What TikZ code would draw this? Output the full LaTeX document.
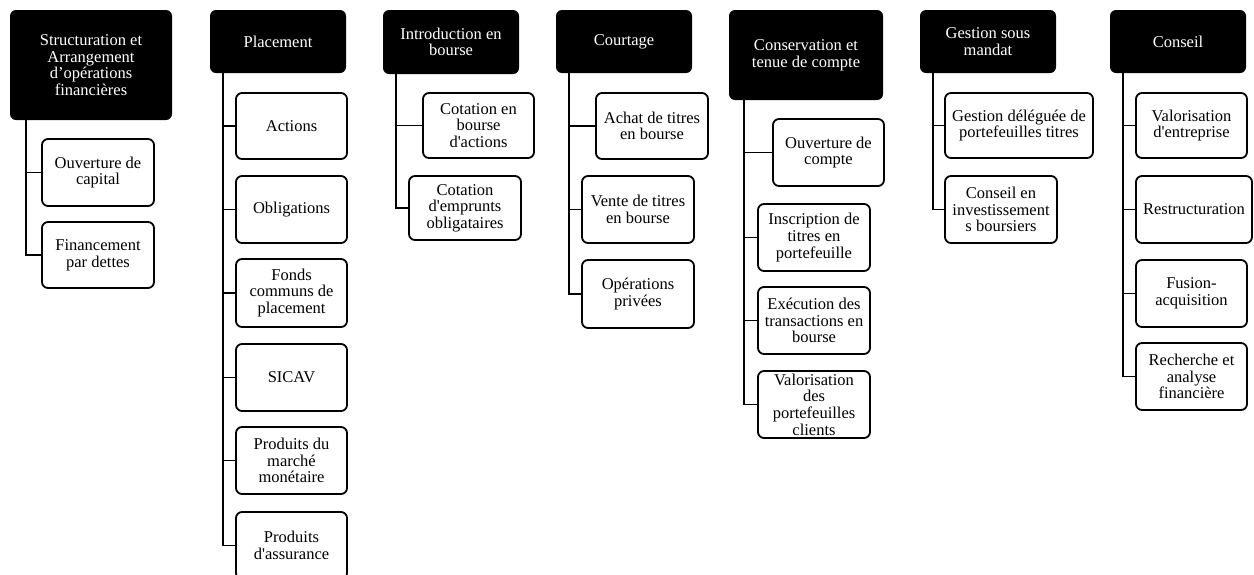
\documentclass[tikz,border=0pt]{standalone}
\usepackage{fontspec}
\setmainfont{Liberation Serif}[Ligatures=TeXOff]
\begin{document}
\begin{tikzpicture}[x=1pt,y=-1pt,
  every node/.style={font=\fontsize{16.5}{16.6}\selectfont, align=center, inner sep=0pt},
  head/.style={fill=black, text=white, rounded corners=6pt},
  sub/.style={draw=black, line width=1.8pt, fill=white, rounded corners=6pt},
  conn/.style={draw=black, line width=1.8pt}]
\useasboundingbox (0,0) rectangle (1254,574);

% Column 1
\node[head, minimum width=162, minimum height=110] (H1) at (91,65) {Structuration et\\Arrangement\\d’opérations\\financières};
\node[sub, minimum width=112, minimum height=67] (C11) at (98,172.5) {Ouverture de\\capital};
\node[sub, minimum width=112, minimum height=66] (C12) at (98,255) {Financement\\par dettes};
\coordinate (T1) at (26,0);

% Column 2
\node[head, minimum width=136, minimum height=63] (H2) at (278,41.5) {Placement};
\node[sub, minimum width=111, minimum height=66] (C21) at (291.5,126) {Actions};
\node[sub, minimum width=111, minimum height=67] (C22) at (291.5,209.5) {Obligations};
\node[sub, minimum width=111, minimum height=68] (C23) at (291.5,293) {Fonds\\communs de\\placement};
\node[sub, minimum width=111, minimum height=67] (C24) at (291.5,377.5) {SICAV};
\node[sub, minimum width=111, minimum height=67] (C25) at (291.5,460.5) {Produits du\\marché\\monétaire};
\node[sub, minimum width=111, minimum height=67] (C26) at (291.5,545.5) {Produits\\d'assurance};
\coordinate (T2) at (223,0);

% Column 3
\node[head, minimum width=136, minimum height=64] (H3) at (451,42) {Introduction en\\bourse};
\node[sub, minimum width=111, minimum height=65] (C31) at (478.5,125.5) {Cotation en\\bourse\\d'actions};
\node[sub, minimum width=112, minimum height=64] (C32) at (465,208) {Cotation\\d'emprunts\\obligataires};
\coordinate (T3) at (396,0);

% Column 4
\node[head, minimum width=136, minimum height=63] (H4) at (624,41.5) {Courtage};
\node[sub, minimum width=112, minimum height=66] (C41) at (652,126) {Achat de titres\\en bourse};
\node[sub, minimum width=112, minimum height=67] (C42) at (638,209.5) {Vente de titres\\en bourse};
\node[sub, minimum width=112, minimum height=68] (C43) at (638,294) {Opérations\\privées};
\coordinate (T4) at (569,0);

% Column 5
\node[head, minimum width=154, minimum height=90] (H5) at (806,55) {Conservation et\\tenue de compte};
\node[sub, minimum width=111, minimum height=67] (C51) at (828.5,152.5) {Ouverture de\\compte};
\node[sub, minimum width=112, minimum height=67] (C52) at (814,237.5) {Inscription de\\titres en\\portefeuille};
\node[sub, minimum width=112, minimum height=67] (C53) at (814,320.5) {Exécution des\\transactions en\\bourse};
\node[sub, minimum width=112, minimum height=67] (C54) at (814,404.5) {Valorisation\\des\\portefeuilles\\clients};
\coordinate (T5) at (744,0);

% Column 6
\node[head, minimum width=136, minimum height=63] (H6) at (988,41.5) {Gestion sous\\mandat};
\node[sub, minimum width=148, minimum height=65] (C61) at (1019,125.5) {Gestion déléguée de\\portefeuilles titres};
\node[sub, minimum width=112, minimum height=67] (C62) at (1001,209.5) {Conseil en\\investissement\\s boursiers};
\coordinate (T6) at (933,0);

% Column 7
\node[head, minimum width=136, minimum height=63] (H7) at (1178,41.5) {Conseil};
\node[sub, minimum width=111, minimum height=65] (C71) at (1191.5,125.5) {Valorisation\\d'entreprise};
\node[sub, minimum width=116, minimum height=67] (C72) at (1194,209.5) {Restructuration};
\node[sub, minimum width=111, minimum height=67] (C73) at (1191.5,293.5) {Fusion-\\acquisition};
\node[sub, minimum width=111, minimum height=67] (C74) at (1191.5,376.5) {Recherche et\\analyse\\financière};
\coordinate (T7) at (1123,0);

% Connectors
\draw[conn] (H1.south -| T1) |- (C12.west);
\draw[conn] (T1 |- C11.west) -- (C11.west);

\draw[conn] (H2.south -| T2) |- (C26.west);
\foreach \c in {C21,C22,C23,C24,C25} \draw[conn] (T2 |- \c.west) -- (\c.west);

\draw[conn] (H3.south -| T3) |- (C32.west);
\draw[conn] (T3 |- C31.west) -- (C31.west);

\draw[conn] (H4.south -| T4) |- (C43.west);
\foreach \c in {C41,C42} \draw[conn] (T4 |- \c.west) -- (\c.west);

\draw[conn] (H5.south -| T5) |- (C54.west);
\foreach \c in {C51,C52,C53} \draw[conn] (T5 |- \c.west) -- (\c.west);

\draw[conn] (H6.south -| T6) |- (C62.west);
\draw[conn] (T6 |- C61.west) -- (C61.west);

\draw[conn] (H7.south -| T7) |- (C74.west);
\foreach \c in {C71,C72,C73} \draw[conn] (T7 |- \c.west) -- (\c.west);
\end{tikzpicture}
\end{document}
